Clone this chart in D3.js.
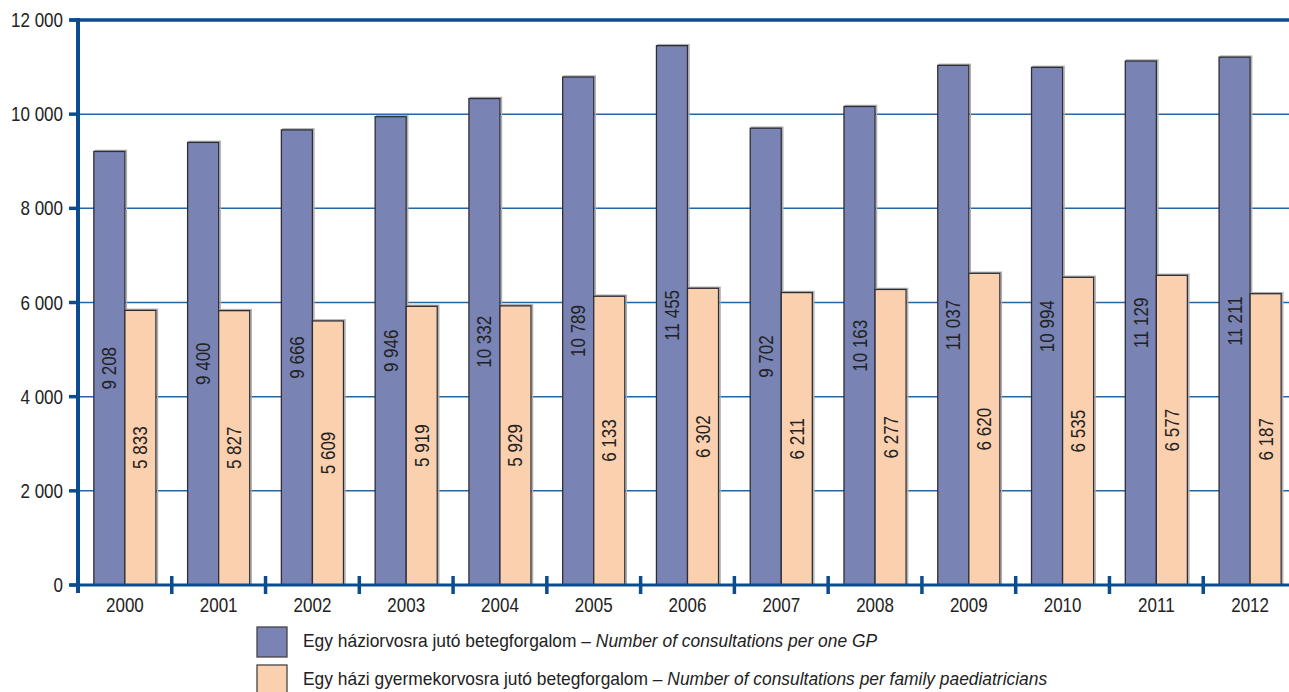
<!DOCTYPE html>
<html><head><meta charset="utf-8">
<script src="https://cdn.jsdelivr.net/npm/d3@7"></script>
<style>
html,body{margin:0;padding:0;background:#fff;}
svg{display:block;}
text{font-family:"Liberation Sans",Arial,sans-serif;fill:#222;}
</style></head>
<body>
<svg id="chart" width="1289" height="692"></svg>
<script>
const years = ["2000","2001","2002","2003","2004","2005","2006","2007","2008","2009","2010","2011","2012"];
const gpValues = [9208,9400,9666,9946,10332,10789,11455,9702,10163,11037,10994,11129,11211];
const paedValues = [5833,5827,5609,5919,5929,6133,6302,6211,6277,6620,6535,6577,6187];
const yTicks = [0,2000,4000,6000,8000,10000,12000];
const seriesNames = ["gp","paed"];
const legendHu = ["Egy háziorvosra jutó betegforgalom – ","Egy házi gyermekorvosra jutó betegforgalom – "];
const legendEn = ["Number of consultations per one GP","Number of consultations per family paediatricians"];

(function(){
const colors = {gp:"#7984b5", paed:"#fbd0ae"};
const axisBlue = "#0b4c8f";
const gridBlue = "#2465a6";
const SX = 0.85;

const svg = d3.select("#chart");
const pLeft = 78, pRight = 1297, pTop = 20, pBottom = 585;

const x = d3.scaleBand().domain(years).range([pLeft, pRight]).paddingInner(0).paddingOuter(0);
const x1 = d3.scaleBand().domain(seriesNames).range([0, x.bandwidth()]).paddingOuter(0.51).paddingInner(0);
const y = d3.scaleLinear().domain([0,12000]).range([pBottom, pTop]);

const fmt = v => d3.format(",")(v).replace(/,/g, " ");

svg.append("g").selectAll("line").data(yTicks.filter(t => t>0 && t<12000)).join("line")
  .attr("x1", pLeft).attr("x2", 1289).attr("y1", d=>y(d)).attr("y2", d=>y(d))
  .attr("stroke", gridBlue).attr("stroke-width", 1.5);

const data = years.map((yr,i)=>({year:yr, gp:gpValues[i], paed:paedValues[i]}));
const groups = svg.append("g").selectAll("g").data(data).join("g")
  .attr("transform", d=>`translate(${x(d.year)},0)`);

seriesNames.forEach(s=>{
  groups.append("rect")
    .attr("x", x1(s)+1.5).attr("y", d=>y(d[s])-1)
    .attr("width", x1.bandwidth()).attr("height", d=>pBottom-y(d[s])+1)
    .attr("fill", "none").attr("stroke", "#b0b0b0").attr("stroke-width", 1.5);
  groups.append("rect")
    .attr("x", x1(s)).attr("y", d=>y(d[s]))
    .attr("width", x1.bandwidth()).attr("height", d=>pBottom-y(d[s]))
    .attr("fill", colors[s]).attr("stroke", "#2e2e36").attr("stroke-width", 1.3);
  groups.append("text")
    .attr("transform", d=>`translate(${x1(s)+x1.bandwidth()/2},${(y(d[s])+pBottom)/2}) rotate(-90) scale(${SX},1)`)
    .attr("text-anchor","middle").attr("dominant-baseline","central")
    .attr("font-size", 20).text(d=>fmt(d[s]));
});

svg.append("line").attr("x1", 70).attr("x2", 1289).attr("y1", pTop).attr("y2", pTop)
  .attr("stroke", axisBlue).attr("stroke-width", 3.5);
svg.append("line").attr("x1", 70).attr("x2", 1289).attr("y1", pBottom).attr("y2", pBottom)
  .attr("stroke", axisBlue).attr("stroke-width", 3);
svg.append("line").attr("x1", pLeft).attr("x2", pLeft).attr("y1", pTop-2).attr("y2", 593)
  .attr("stroke", axisBlue).attr("stroke-width", 4);

const yg = svg.append("g");
yg.selectAll("line").data(yTicks).join("line")
  .attr("x1", 69).attr("x2", pLeft).attr("y1", d=>y(d)).attr("y2", d=>y(d))
  .attr("stroke", axisBlue).attr("stroke-width", 3.5);
yg.selectAll("text").data(yTicks).join("text")
  .attr("transform", d=>`translate(63,${y(d)}) scale(${SX},1)`)
  .attr("text-anchor","end").attr("dominant-baseline","central")
  .attr("font-size", 20).text(d=>fmt(d));

svg.append("g").selectAll("line").data(years.slice(1)).join("line")
  .attr("x1", d=>x(d)).attr("x2", d=>x(d)).attr("y1", 576).attr("y2", 594)
  .attr("stroke", axisBlue).attr("stroke-width", 3.5);
svg.append("g").selectAll("text").data(years).join("text")
  .attr("transform", d=>`translate(${x(d)+x.bandwidth()/2},605) scale(${SX},1)`)
  .attr("text-anchor","middle").attr("dominant-baseline","central")
  .attr("font-size", 20).text(d=>d);

const lg = svg.append("g");
seriesNames.forEach((s,i)=>{
  const ly = 627 + i*38;
  lg.append("rect").attr("x", 257).attr("y", ly).attr("width", 30).attr("height", 30)
    .attr("fill", colors[s]).attr("stroke", "#444").attr("stroke-width", 1.3);
  const t = lg.append("text").attr("transform", `translate(303,${ly+14}) scale(0.935,1)`)
    .attr("dominant-baseline","central").attr("font-size", 18.6);
  t.append("tspan").text(legendHu[i]);
  t.append("tspan").attr("font-style","italic").text(legendEn[i]);
});
})();
</script>
</body></html>
